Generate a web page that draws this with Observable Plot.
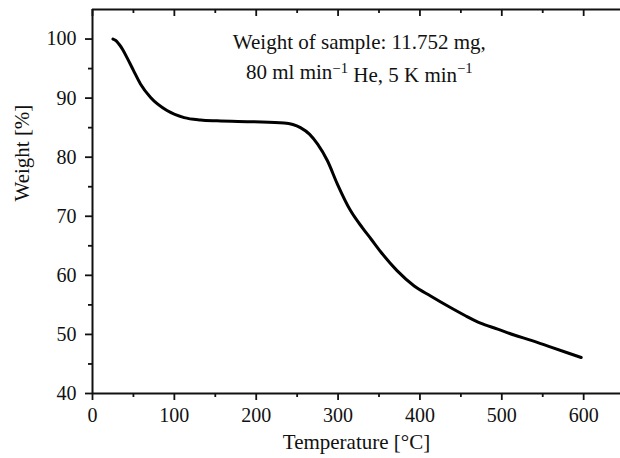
<!DOCTYPE html>
<html><head><meta charset="utf-8">
<script src="https://cdn.jsdelivr.net/npm/d3@7"></script>
<script src="https://cdn.jsdelivr.net/npm/@observablehq/plot@0.6"></script>
<style>
body{margin:0;background:#fff;}
svg{font-family:"Liberation Serif",serif;}
</style></head><body><div id="chart"></div>
<script>
const temps = [25, 28, 32, 37, 42, 50, 58.6, 71, 91, 112, 132, 152, 197, 234, 254, 265, 275, 287, 299, 315, 330, 340, 352, 372, 393, 413, 434, 455, 474, 495, 515, 536, 560, 580, 597];
const weights = [100, 99.8, 99.2, 98.2, 96.9, 94.7, 92.4, 90.1, 87.9, 86.7, 86.3, 86.15, 86.0, 85.8, 85.0, 83.9, 82.2, 79.4, 75.5, 71.0, 68.0, 66.2, 64.0, 60.8, 58.2, 56.5, 54.8, 53.2, 51.9, 50.9, 49.9, 49.0, 47.85, 46.9, 46.1];
const xMajor = [0, 100, 200, 300, 400, 500, 600];
const xMinor = [50, 150, 250, 350, 450, 550];
const yMajor = [40, 50, 60, 70, 80, 90, 100];
const yMinor = [45, 55, 65, 75, 85, 95];
const annoLines = ["Weight of sample: 11.752 mg,", "80 ml min⁻¹ He, 5 K min⁻¹"];
const annoY = [99.4, 94.3];
const xLabel = "Temperature [°C]";
const yLabel = "Weight [%]";

const data = temps.map((t, i) => ({t, w: weights[i]}));
const W = 620, H = 458, mt = 9, mb = 65, ml = 92, mr = 0;
const fsTick = 20, fsLabel = 21, fsAnno = 21;
const yMin = 40, yMax = 105;
const unitsPerPx = (yMax - yMin) / (H - mt - mb);
const majorLen = 7, minorLen = 4;

const chart = Plot.plot({
  width: W, height: H,
  marginTop: mt, marginBottom: mb, marginLeft: ml, marginRight: mr,
  style: {fontFamily: "Liberation Serif, serif", fontSize: fsTick + "px", color: "#111", background: "#fff"},
  x: {domain: [0, 645]},
  y: {domain: [yMin, yMax]},
  marks: [
    Plot.axisX({ticks: xMajor, tickSize: majorLen, tickPadding: 7, strokeWidth: 1.8, fontSize: fsTick, label: null, tickFormat: d => String(d)}),
    Plot.axisX({ticks: xMinor, tickSize: minorLen, strokeWidth: 1.8, text: null, label: null}),
    Plot.ruleX(xMajor, {x: d => d, y1: yMax, y2: yMax - majorLen * unitsPerPx, stroke: "#111", strokeWidth: 1.8}),
    Plot.ruleX(xMinor, {x: d => d, y1: yMax, y2: yMax - minorLen * unitsPerPx, stroke: "#111", strokeWidth: 1.8}),
    Plot.axisY({ticks: yMajor, tickSize: majorLen, tickPadding: 9, strokeWidth: 1.8, fontSize: fsTick, tickFormat: d => String(d), label: null}),
    Plot.axisY({ticks: yMinor, tickSize: minorLen, strokeWidth: 1.8, text: null, label: null}),
    Plot.ruleY([yMin], {stroke: "#111", strokeWidth: 2}),
    Plot.ruleY([yMax], {stroke: "#111", strokeWidth: 2}),
    Plot.ruleX([0], {stroke: "#111", strokeWidth: 2}),
    Plot.text([xLabel], {frameAnchor: "bottom", dy: 49, lineAnchor: "middle", fontSize: fsLabel, fill: "#111"}),
    Plot.text([yLabel], {frameAnchor: "left", dx: -70, rotate: -90, lineAnchor: "middle", fontSize: fsLabel, fill: "#111"}),
    Plot.line(data, {x: "t", y: "w", curve: "monotone-x", stroke: "#000", strokeWidth: 3}),
    Plot.text(annoLines, {x: 326, y: (d, i) => annoY[i], text: d => d, fontSize: fsAnno, fill: "#111", lineAnchor: "middle", className: "anno"})
  ]
});

// render superscripts as tspans
d3.select(chart).selectAll("g.anno text").each(function() {
  const txt = this.textContent;
  if (!txt.includes("⁻¹")) return;
  const parts = txt.split("⁻¹");
  const el = d3.select(this);
  el.text(null);
  parts.forEach((p, i) => {
    el.append("tspan").text(p).attr("dy", i > 0 ? "0.45em" : null);
    if (i < parts.length - 1) {
      el.append("tspan").text("−1").attr("font-size", "0.7em").attr("dy", i > 0 ? "-0.64em" : "-0.45em");
    }
  });
});
document.getElementById("chart").appendChild(chart);
</script></body></html>
